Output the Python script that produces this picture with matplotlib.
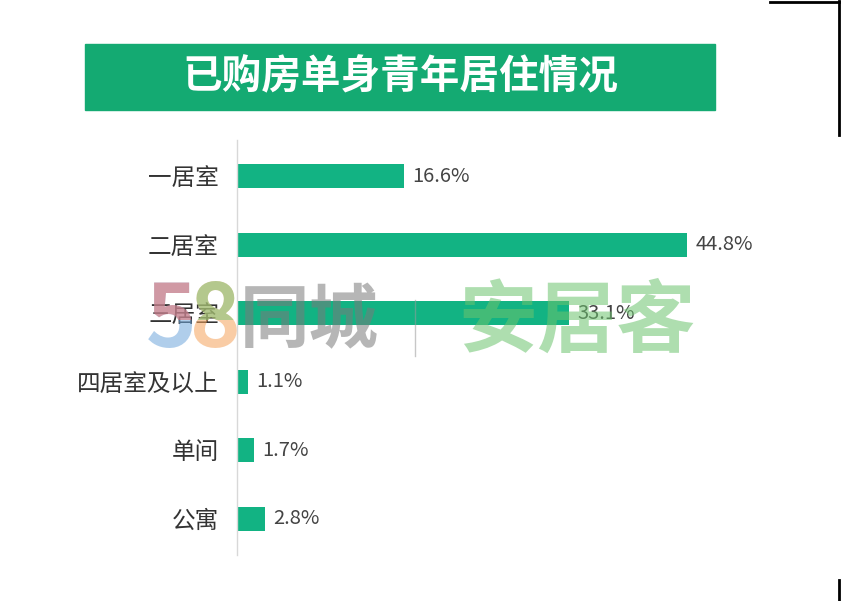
import matplotlib.pyplot as plt
from matplotlib.patches import Rectangle
from matplotlib.lines import Line2D

plt.rcParams['font.family'] = ['Noto Sans CJK SC', 'DejaVu Sans']

title = "已购房单身青年居住情况"
categories = ["一居室", "二居室", "三居室", "四居室及以上", "单间", "公寓"]
shares = [16.6, 44.8, 33.1, 1.1, 1.7, 2.8]
value_labels = ["16.6%", "44.8%", "33.1%", "1.1%", "1.7%", "2.8%"]

bar_color = "#12b383"
banner_color = "#14aa72"

W, H = 841, 601
fig = plt.figure(figsize=(W / 100, H / 100), dpi=100)
fig.patch.set_facecolor("white")

def px(x0, y0, x1, y1):
    # pixel box (top-left origin) -> figure fraction rect
    return [x0 / W, 1 - y1 / H, (x1 - x0) / W, (y1 - y0) / H]

# title banner
fig.patches.append(Rectangle((85 / W, 1 - 110 / H), 630 / W, 66 / H,
                             transform=fig.transFigure, color=banner_color, zorder=1))
fig.text(400 / W, 1 - 77 / H, title, color="white", fontsize=28.5, fontweight="bold",
         ha="center", va="center", zorder=2)

ax = fig.add_axes(px(237, 140, 739, 555))
y = list(range(len(categories)))
ax.barh(y, shares, height=0.35, color=bar_color, zorder=2)
ax.set_xlim(0, 50)
ax.set_ylim(len(categories) - 0.475, -0.525)
ax.set_yticks(y)
ax.set_yticklabels(categories, fontsize=17, color="#333333")
ax.tick_params(axis="y", length=0, pad=13)
ax.set_xticks([])
for s in ["top", "right", "bottom"]:
    ax.spines[s].set_visible(False)
ax.spines["left"].set_color("#d8d8d8")
ax.spines["left"].set_linewidth(1)
for yi, v, lab in zip(y, shares, value_labels):
    ax.annotate(lab, (v, yi), xytext=(6, 0), textcoords="offset points",
                va="center", ha="left", fontsize=14.5, color="#444444")

# watermark
wm_y = 1 - 322 / H
alpha = 0.55
t5b = fig.text(146 / W, wm_y, "5", fontsize=62, fontweight="bold", color="#6fa6dc",
               alpha=alpha, va="center", ha="left", zorder=5)
t5t = fig.text(146 / W, wm_y, "5", fontsize=62, fontweight="bold", color="#ec6f6a",
               alpha=alpha, va="center", ha="left", zorder=6)
t8b = fig.text(190 / W, wm_y, "8", fontsize=62, fontweight="bold", color="#f5a35c",
               alpha=alpha, va="center", ha="left", zorder=5)
t8t = fig.text(190 / W, wm_y, "8", fontsize=62, fontweight="bold", color="#7cc57a",
               alpha=alpha, va="center", ha="left", zorder=6)
clip_top = Rectangle((0, 1 - 320 / H), 1, 320 / H, transform=fig.transFigure)
clip_top2 = Rectangle((0, 1 - 320 / H), 1, 320 / H, transform=fig.transFigure)
t5t.set_clip_path(clip_top)
t8t.set_clip_path(clip_top2)
fig.text(240 / W, wm_y, "同城", fontsize=50, fontweight="bold", color="#7a7a7a",
         alpha=alpha, va="center", ha="left", zorder=5)
fig.lines.append(Line2D([415 / W, 415 / W], [1 - 300 / H, 1 - 356 / H],
                        transform=fig.transFigure, color="#9a9a9a", lw=1, alpha=alpha, zorder=5))
fig.text(458 / W, wm_y, "安居客", fontsize=57, fontweight="bold", color="#6cc36e",
         alpha=alpha, va="center", ha="left", zorder=5)

# frame edges at right side
fig.lines.append(Line2D([770 / W, 839 / W], [1 - 2 / H, 1 - 2 / H],
                        transform=fig.transFigure, color="black", lw=2))
fig.lines.append(Line2D([839 / W, 839 / W], [1 - 1 / H, 1 - 135 / H],
                        transform=fig.transFigure, color="black", lw=2))
fig.lines.append(Line2D([839 / W, 839 / W], [1 - 580 / H, 0],
                        transform=fig.transFigure, color="black", lw=2))

fig.savefig("out.png", dpi=100)
